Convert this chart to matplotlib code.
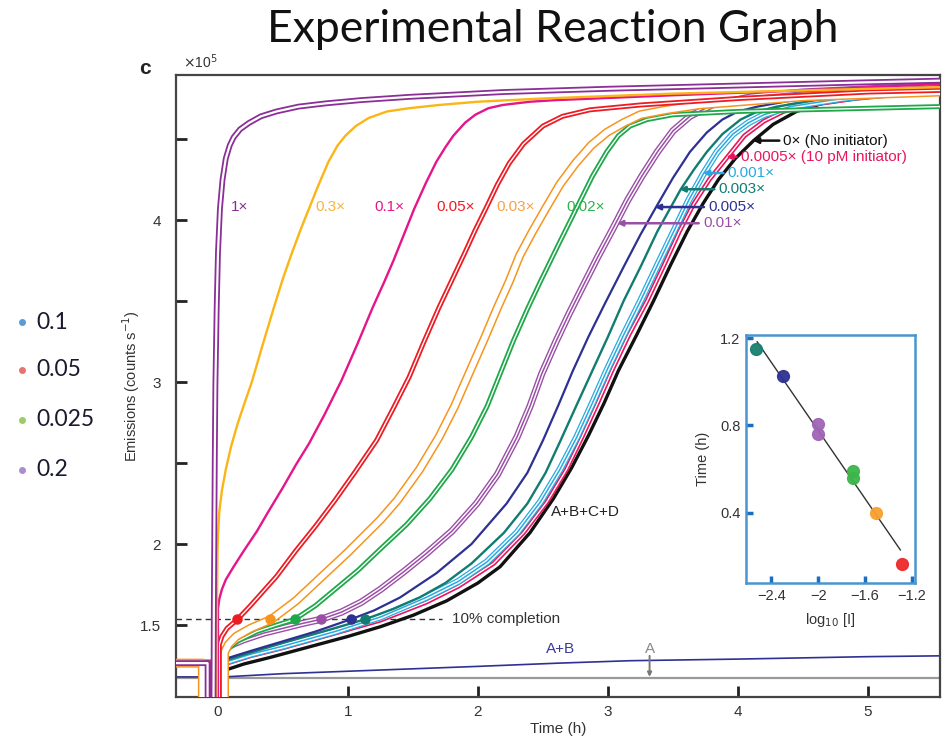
import numpy as np
import matplotlib
matplotlib.use("Agg")
import matplotlib.pyplot as plt
import matplotlib.patheffects as pe
from matplotlib.lines import Line2D

plt.rcParams['font.family'] = ['Liberation Sans', 'DejaVu Sans']

# ---------------- data ----------------
# time (h) / emission (x1e5 counts/s)
t_1x = [-0.323, -0.08, -0.08, -0.035, -0.032, -0.025, -0.02, -0.01, 0.0, 0.015, 0.035, 0.06, 0.09, 0.12, 0.17, 0.24, 0.33, 0.45, 0.62, 0.83, 1.1, 1.47, 2.2, 3.0, 4.0, 5.0, 5.55]
v_1x = [1.265, 1.265, 0.9, 0.9, 1.6, 2.5, 2.98, 3.46, 3.80, 4.07, 4.25, 4.38, 4.46, 4.51, 4.56, 4.60, 4.64, 4.67, 4.70, 4.72, 4.74, 4.76, 4.79, 4.81, 4.83, 4.85, 4.86]

t_03x = [-0.323, -0.09, -0.09, -0.01, -0.008, -0.004, 0.0, 0.01, 0.03, 0.06, 0.10, 0.15, 0.20, 0.26, 0.34, 0.43, 0.50, 0.57, 0.64, 0.70, 0.77, 0.85, 0.92, 0.98, 1.06, 1.16, 1.30, 1.47, 1.70, 2.0, 2.5, 3.5, 4.5, 5.55]
v_03x = [1.265, 1.265, 0.9, 0.9, 1.6, 1.95, 2.05, 2.20, 2.33, 2.46, 2.60, 2.74, 2.86, 3.00, 3.22, 3.46, 3.64, 3.80, 3.95, 4.07, 4.21, 4.36, 4.46, 4.52, 4.58, 4.63, 4.67, 4.69, 4.71, 4.73, 4.75, 4.78, 4.80, 4.82]

t_01x = [-0.323, -0.06, -0.06, 0.0, 0.0, 0.01, 0.03, 0.06, 0.12, 0.20, 0.30, 0.38, 0.50, 0.60, 0.70, 0.82, 0.95, 1.07, 1.19, 1.28, 1.35, 1.43, 1.51, 1.60, 1.68, 1.75, 1.81, 1.90, 1.98, 2.08, 2.19, 2.40, 2.60, 3.5, 4.5, 5.55]
v_01x = [1.265, 1.265, 0.9, 0.9, 1.60, 1.66, 1.72, 1.78, 1.86, 1.96, 2.08, 2.19, 2.35, 2.49, 2.62, 2.80, 3.01, 3.23, 3.46, 3.62, 3.75, 3.91, 4.07, 4.23, 4.36, 4.45, 4.52, 4.60, 4.65, 4.69, 4.71, 4.73, 4.74, 4.77, 4.80, 4.84]

t_005x = [-0.323, -0.05, -0.05, 0.01, 0.01, 0.03, 0.07, 0.15, 0.25, 0.35, 0.45, 0.60, 0.75, 0.90, 1.05, 1.22, 1.35, 1.47, 1.58, 1.70, 1.80, 1.90, 1.98, 2.06, 2.15, 2.24, 2.35, 2.50, 2.65, 2.86, 3.25, 4.0, 5.0, 5.55]
v_005x = [1.265, 1.265, 0.9, 0.9, 1.38, 1.43, 1.48, 1.535, 1.62, 1.71, 1.80, 1.96, 2.11, 2.27, 2.44, 2.64, 2.84, 3.03, 3.24, 3.46, 3.63, 3.80, 3.94, 4.07, 4.22, 4.35, 4.47, 4.58, 4.64, 4.68, 4.71, 4.75, 4.79, 4.80]

t_003x = [-0.323, -0.12, -0.12, 0.05, 0.05, 0.08, 0.14, 0.25, 0.41, 0.60, 0.80, 1.00, 1.15, 1.25, 1.38, 1.55, 1.70, 1.82, 1.94, 2.05, 2.15, 2.24, 2.32, 2.42, 2.52, 2.63, 2.75, 2.87, 2.99, 3.12, 3.25, 3.45, 3.70, 4.5, 5.55]
v_003x = [1.265, 1.265, 0.9, 0.9, 1.33, 1.38, 1.43, 1.48, 1.535, 1.65, 1.80, 1.95, 2.07, 2.15, 2.27, 2.46, 2.66, 2.85, 3.07, 3.27, 3.46, 3.62, 3.78, 3.93, 4.07, 4.22, 4.35, 4.46, 4.54, 4.60, 4.65, 4.68, 4.71, 4.76, 4.79]

t_002x = [-0.323, -0.05, -0.05, 0.02, 0.02, 0.06, 0.15, 0.30, 0.45, 0.59, 0.75, 0.90, 1.08, 1.25, 1.45, 1.63, 1.80, 1.95, 2.07, 2.17, 2.27, 2.38, 2.48, 2.62, 2.75, 2.88, 2.99, 3.08, 3.17, 3.30, 3.50, 4.0, 4.5, 5.55]
v_002x = [1.265, 1.265, 0.9, 0.9, 1.30, 1.34, 1.40, 1.46, 1.50, 1.535, 1.62, 1.72, 1.84, 1.97, 2.12, 2.28, 2.46, 2.66, 2.85, 3.05, 3.25, 3.45, 3.62, 3.85, 4.06, 4.27, 4.42, 4.52, 4.58, 4.62, 4.65, 4.67, 4.68, 4.70]

t_001x = [-0.323, -0.04, -0.04, 0.02, 0.02, 0.08, 0.20, 0.35, 0.50, 0.65, 0.79, 0.95, 1.10, 1.25, 1.43, 1.60, 1.80, 1.99, 2.15, 2.30, 2.40, 2.49, 2.60, 2.70, 2.80, 2.92, 3.04, 3.15, 3.26, 3.38, 3.50, 3.63, 3.80, 4.10, 4.50, 5.55]
v_001x = [1.265, 1.265, 0.9, 0.9, 1.33, 1.37, 1.41, 1.45, 1.48, 1.51, 1.535, 1.58, 1.64, 1.72, 1.83, 1.94, 2.08, 2.25, 2.43, 2.66, 2.85, 3.05, 3.25, 3.42, 3.58, 3.77, 3.95, 4.12, 4.27, 4.42, 4.55, 4.64, 4.71, 4.76, 4.79, 4.83]

t_0005x = [-0.323, -0.10, -0.10, -0.03, -0.03, 0.05, 0.25, 0.50, 0.75, 1.02, 1.20, 1.40, 1.68, 1.95, 2.22, 2.38, 2.50, 2.62, 2.73, 2.85, 2.98, 3.12, 3.25, 3.37, 3.50, 3.63, 3.76, 3.88, 4.00, 4.15, 4.50, 5.00, 5.55]
v_0005x = [1.265, 1.265, 0.9, 0.9, 1.26, 1.29, 1.34, 1.40, 1.46, 1.535, 1.59, 1.67, 1.82, 2.00, 2.25, 2.44, 2.64, 2.86, 3.07, 3.28, 3.49, 3.71, 3.91, 4.08, 4.26, 4.42, 4.54, 4.62, 4.67, 4.70, 4.75, 4.79, 4.82]

t_0003x = [-0.323, -0.06, -0.06, -0.02, -0.02, 0.05, 0.25, 0.50, 0.85, 1.13, 1.35, 1.55, 1.75, 1.95, 2.20, 2.38, 2.52, 2.63, 2.76, 2.88, 3.00, 3.12, 3.25, 3.38, 3.47, 3.56, 3.66, 3.76, 3.88, 4.02, 4.15, 4.30, 4.60, 5.00, 5.55]
v_0003x = [1.265, 1.265, 0.9, 0.9, 1.25, 1.28, 1.33, 1.39, 1.47, 1.535, 1.60, 1.67, 1.76, 1.88, 2.07, 2.25, 2.44, 2.63, 2.86, 3.07, 3.28, 3.50, 3.71, 3.93, 4.06, 4.19, 4.31, 4.42, 4.53, 4.62, 4.67, 4.70, 4.74, 4.77, 4.80]

t_0001x = [-0.323, -0.05, -0.05, -0.01, -0.01, 0.05, 0.25, 0.50, 0.90, 1.25, 1.60, 1.85, 2.07, 2.30, 2.48, 2.63, 2.76, 2.88, 2.99, 3.12, 3.25, 3.38, 3.50, 3.62, 3.73, 3.84, 3.96, 4.08, 4.20, 4.40, 4.80, 5.55]
v_0001x = [1.265, 1.265, 0.9, 0.9, 1.24, 1.27, 1.32, 1.37, 1.46, 1.55, 1.67, 1.77, 1.89, 2.07, 2.26, 2.46, 2.66, 2.87, 3.07, 3.29, 3.50, 3.72, 3.92, 4.12, 4.28, 4.42, 4.53, 4.60, 4.65, 4.70, 4.75, 4.81]

t_00005x = [-0.323, -0.04, -0.04, 0.0, 0.0, 0.05, 0.25, 0.50, 0.90, 1.25, 1.60, 1.85, 2.12, 2.35, 2.53, 2.68, 2.80, 2.92, 3.03, 3.16, 3.30, 3.43, 3.55, 3.66, 3.78, 3.92, 4.05, 4.20, 4.35, 4.55, 4.90, 5.55]
v_00005x = [1.265, 1.265, 0.9, 0.9, 1.23, 1.26, 1.31, 1.36, 1.45, 1.53, 1.64, 1.74, 1.88, 2.07, 2.26, 2.46, 2.66, 2.87, 3.07, 3.29, 3.50, 3.72, 3.93, 4.10, 4.25, 4.39, 4.52, 4.61, 4.67, 4.71, 4.75, 4.80]

t_0x = [-0.323, -0.02, -0.02, 0.0, 0.0, 0.05, 0.20, 0.40, 0.70, 1.00, 1.25, 1.50, 1.76, 2.00, 2.17, 2.40, 2.58, 2.72, 2.85, 2.97, 3.08, 3.22, 3.35, 3.48, 3.61, 3.73, 3.85, 3.98, 4.12, 4.27, 4.45, 4.65, 5.00, 5.55]
v_0x = [1.265, 1.265, 0.9, 0.9, 1.20, 1.22, 1.26, 1.30, 1.365, 1.43, 1.49, 1.56, 1.65, 1.76, 1.86, 2.07, 2.28, 2.47, 2.67, 2.87, 3.07, 3.29, 3.50, 3.72, 3.93, 4.10, 4.25, 4.38, 4.49, 4.59, 4.67, 4.72, 4.76, 4.80]

t_AB = [-0.323, -0.05, -0.05, -0.03, -0.03, 0.05, 0.5, 1.0, 2.0, 2.62, 3.17, 4.0, 5.0, 5.55]
v_AB = [1.18, 1.18, 0.9, 0.9, 1.175, 1.18, 1.20, 1.215, 1.245, 1.265, 1.28, 1.29, 1.305, 1.31]

t_A = [-0.323, 5.55]
v_A = [1.175, 1.175]

# 10% completion points
t10 = [0.15, 0.40, 0.59, 0.79, 1.02, 1.13]
v10 = 1.535

# inset
log_I = [-2.53, -2.30, -2.0, -2.0, -1.70, -1.70, -1.51, -1.29]
t_half = [1.15, 1.025, 0.805, 0.76, 0.59, 0.56, 0.40, 0.165]

legend_labels = ['0.1', '0.05', '0.025', '0.2']
legend_colors = ['#5b9bd5', '#e57373', '#9ccc65', '#a98fd0']

# ---------------- figure ----------------
W, H = 946, 738
fig = plt.figure(figsize=(W / 100, H / 100), dpi=100)

def fx(px):
    return px / W

def fy(py):
    return 1 - py / H

ax = fig.add_axes([fx(176), fy(697), (940 - 176) / W, (697 - 75) / H])
ax.set_xlim(-0.323, 5.554)
ax.set_ylim(1.056, 4.895)

def single(c, lw):
    return dict(color=c, lw=lw)

def double(c, wo, wi):
    return dict(color=c, lw=wo, path_effects=[pe.Stroke(linewidth=wo, foreground=c),
                                              pe.Stroke(linewidth=wi, foreground='white')])

def triple(c, wo, wi, wc):
    return dict(color=c, lw=wc, path_effects=[pe.Stroke(linewidth=wo, foreground=c),
                                              pe.Stroke(linewidth=wi, foreground='white'),
                                              pe.Normal()])

C_PURPLE1 = '#8a2f96'
C_YELLOW = '#fbb516'
C_MAGENTA = '#e5168a'
C_RED = '#ec1c24'
C_ORANGE = '#f7941d'
C_GREEN = '#1fa84a'
C_PURPLE = '#9a4ea6'
C_NAVY = '#2e3192'
C_TEAL = '#137c70'
C_BLUE = '#27aae1'
C_CRIMSON = '#e8175d'
C_BLACK = '#111111'

ax.plot(t_A, v_A, color='#9a9a9a', lw=1.6, zorder=1)
ax.plot(t_AB, v_AB, color=C_NAVY, lw=1.2, zorder=1.5)

ax.plot(t_0x, v_0x, **single(C_BLACK, 2.4), zorder=2)
ax.plot(t_00005x, v_00005x, **double(C_CRIMSON, 3.4, 1.0), zorder=2.1)
ax.plot(t_0001x, v_0001x, **triple(C_BLUE, 5.0, 3.2, 1.1), zorder=2.2)
ax.plot(t_0003x, v_0003x, **single(C_TEAL, 1.7), zorder=2.3)
ax.plot(t_0005x, v_0005x, **single(C_NAVY, 1.6), zorder=2.4)
ax.plot(t_001x, v_001x, **triple(C_PURPLE, 5.2, 3.2, 1.1), zorder=2.5)
ax.plot(t_002x, v_002x, **double(C_GREEN, 3.6, 1.0), zorder=2.6)
ax.plot(t_003x, v_003x, **double(C_ORANGE, 6.5, 4.3), zorder=2.7)
ax.plot(t_005x, v_005x, **double(C_RED, 3.6, 1.0), zorder=2.8)
ax.plot(t_01x, v_01x, **single(C_MAGENTA, 1.7), zorder=2.9)
ax.plot(t_03x, v_03x, **single(C_YELLOW, 1.7), zorder=3.0)
ax.plot(t_1x, v_1x, **double(C_PURPLE1, 4.2, 1.6), zorder=3.1)

# 10% completion line and markers
ax.plot([-0.323, 1.72], [v10, v10], ls=(0, (4, 3)), color='#333333', lw=1.0, zorder=1.8)
dot_colors = [C_RED, C_ORANGE, C_GREEN, C_PURPLE, C_NAVY, C_TEAL]
for t, c in zip(t10, dot_colors):
    ax.plot([t], [v10], 'o', color=c, ms=6.5, zorder=5)
ax.text(1.80, v10, '10% completion', fontsize=11, color='#333333', va='center', ha='left')

# curve labels (top-left)
top_labels = [('1×', 0.10, C_PURPLE1), ('0.3×', 0.75, '#f6b53a'), ('0.1×', 1.20, C_MAGENTA),
              ('0.05×', 1.68, C_RED), ('0.03×', 2.14, '#f7a24a'), ('0.02×', 2.68, '#2db34a')]
for s, t, c in top_labels:
    ax.text(t, 4.08, s, color=c, fontsize=11, va='center', ha='left')

# curve labels with arrows (right)
right_labels = [('0× (No initiator)', 4.35, 4.115, 4.49, C_BLACK),
                ('0.0005× (10 pM initiator)', 4.02, 3.91, 4.39, C_CRIMSON),
                ('0.001×', 3.92, 3.73, 4.29, C_BLUE),
                ('0.003×', 3.85, 3.55, 4.19, C_TEAL),
                ('0.005×', 3.77, 3.36, 4.08, C_NAVY),
                ('0.01×', 3.73, 3.07, 3.98, C_PURPLE)]
for s, tt, tip, v, c in right_labels:
    ax.annotate(s, xy=(tip, v), xytext=(tt, v), color=c, fontsize=11, va='center', ha='left',
                arrowprops=dict(arrowstyle='-|>', color=c, lw=1.8, mutation_scale=8,
                                shrinkA=1, shrinkB=0, relpos=(0, 0.5)), zorder=6)

ax.text(2.56, 2.20, 'A+B+C+D', fontsize=11, color='#222222', va='center', ha='left')
ax.text(2.52, 1.35, 'A+B', fontsize=11, color='#3b3b9a', va='center', ha='left')
ax.text(3.32, 1.35, 'A', fontsize=11, color='#8a8a8a', va='center', ha='center')
ax.annotate('', xy=(3.32, 1.18), xytext=(3.32, 1.31),
            arrowprops=dict(arrowstyle='-|>', color='#777777', lw=1.4, mutation_scale=6,
                            shrinkA=0, shrinkB=0))

# axes styling
ax.set_xticks([0, 1, 2, 3, 4, 5])
ax.set_yticks([1.5, 2, 2.5, 3, 3.5, 4, 4.5])
ax.set_yticklabels(['1.5', '2', '', '3', '', '4', ''])
ax.tick_params(direction='in', length=8, width=2, color='#222222', labelsize=11,
               labelcolor='#333333')
ax.tick_params(axis='y', pad=11)
ax.tick_params(axis='x', pad=6)
for sp in ax.spines.values():
    sp.set_linewidth(1.6)
    sp.set_color('#444444')
ax.set_xlabel('Time (h)', fontsize=11, color='#333333', labelpad=2)
ax.set_ylabel('Emissions (counts s$^{-1}$)', fontsize=10.5, color='#333333', labelpad=-2)

# figure texts
fig.text(fx(553), fy(30), 'Experimental Reaction Graph', family='Lato', fontweight='normal',
         fontsize=32, ha='center', va='center', color='#111111')
fig.text(fx(145), fy(68), 'c', fontsize=15, fontweight='bold', ha='center', va='center',
         color='#222222')
fig.text(fx(183), fy(62), r'$\times$10$^5$', fontsize=10, ha='left', va='center', color='#333333')

# left legend
leg_y = [322, 370, 420, 470]
for lab, c, py in zip(legend_labels, legend_colors, leg_y):
    fig.add_artist(Line2D([fx(22)], [fy(py)], marker='o', ms=4, color=c,
                          transform=fig.transFigure))
    fig.text(fx(36), fy(py), lab, family='Lato', fontsize=16.5, ha='left', va='center',
             color='#1a1a2e')

# inset
axi = fig.add_axes([fx(746), fy(583), (915 - 746) / W, (583 - 335) / H])
axi.set_xlim(-2.615, -1.175)
axi.set_ylim(0.078, 1.214)
fit = np.polyfit(log_I, t_half, 1)
xs = np.array([-2.52, -1.30])
axi.plot(xs, np.polyval(fit, xs), color='#333333', lw=1.0, zorder=2)
pt_colors = ['#17806f', '#2e3192', '#a065b5', '#a065b5', '#3cb54a', '#3cb54a', '#f7a030', '#ee2a2a']
for x, y, c in zip(log_I, t_half, pt_colors):
    axi.plot([x], [y], 'o', color=c, ms=8.5, zorder=3, alpha=0.95)
axi.set_xticks([-2.4, -2.0, -1.6, -1.2])
axi.set_xticklabels(['\u22122.4', '\u22122', '\u22121.6', '\u22121.2'])
axi.set_yticks([0.4, 0.8, 1.2])
axi.set_yticklabels(['0.4', '0.8', '1.2'])
axi.tick_params(direction='in', length=5, width=2.5, color='#1a6fc0', labelsize=10.5,
                labelcolor='#333333', pad=4)
for sp in axi.spines.values():
    sp.set_linewidth(1.8)
    sp.set_color('#4a95d0')
axi.set_xlabel('log$_{10}$ [I]', fontsize=10.5, color='#333333', labelpad=6)
axi.set_ylabel('Time (h)', fontsize=10.5, color='#333333', labelpad=7)

fig.savefig('out.png', dpi=100)
